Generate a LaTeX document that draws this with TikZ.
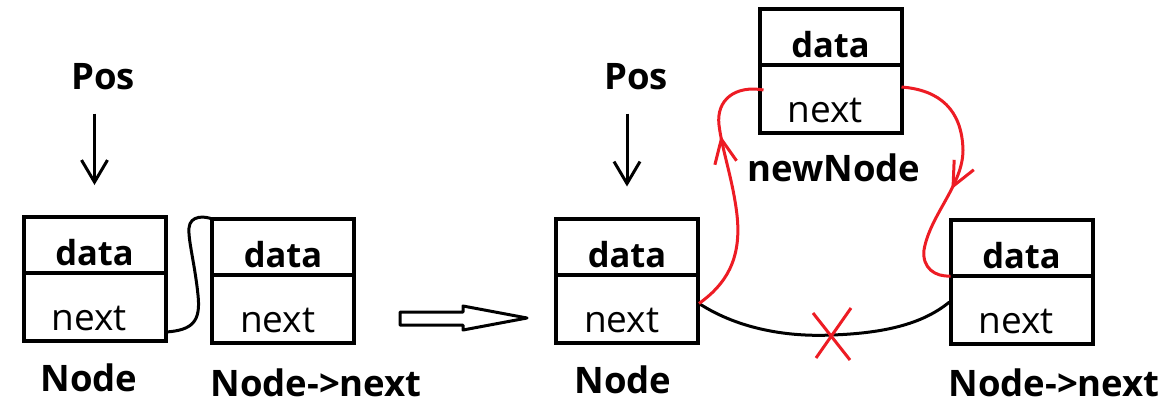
\documentclass[tikz,border=0pt]{standalone}
\usepackage{fontspec}
\setmainfont{Open Sans}
\usepackage{tikz}
\usetikzlibrary{arrows.meta,calc,decorations.markings}
\definecolor{pen}{RGB}{237,28,36}
\tikzset{
field/.style={draw, line width=4pt, minimum width=142pt, inner sep=0pt, outer sep=0pt, text depth=0pt},
datafield/.style={field, minimum height=56pt, text height=41pt, font=\fontsize{34.5}{38}\selectfont\bfseries},
nextfield/.style={field, minimum height=68pt, text height=47pt, inner xsep=28pt, text width=86pt, align=left, font=\fontsize{37}{40}\selectfont},
lbl/.style={font=\fontsize{36.5}{40}\selectfont\bfseries},
pointer/.style={line width=3pt, -{Straight Barb[length=22pt,width=26pt]}, shorten <=20pt, shorten >=32pt},
link/.style={line width=3pt},
redlink/.style={line width=3pt, pen, postaction={decorate}, decoration={markings, mark=at position #1 with {\arrow{Straight Barb[length=24pt,width=22pt]}}}}
}

\begin{document}
\begin{tikzpicture}[x=1pt,y=-1pt]
\useasboundingbox (0,0) rectangle (1171,418);
% before
\node[datafield] (d1) at (94.5,245) {data};
\node[nextfield] (n1) at (94.5,307) {next};
\node[datafield] (d2) at (283,247) {data};
\node[nextfield] (n2) at (283,309) {next};
\node[lbl] (pos1) at (103,77) {Pos};
\node[lbl] (lab1) at (89,378) {Node};
\node[lbl] (lab2) at (316,383) {Node->next};
\draw[pointer] (pos1.south -| d1.north) -- (d1.north);
\draw[link] ($(n1.south east)+(1,-9)$) .. controls (192,330) and (201,322) .. (198,295) .. controls (195,265) and (188,240) .. (189,228) .. controls (190,215) and (205,216) .. (d2.north west);
% big arrow
\draw[line width=3pt, line join=round] (400,312) -- (463,312) -- (463,306) -- (527,318) -- (463,330) -- (463,325) -- (400,325) -- cycle;
% after
\node[datafield] (d3) at (627,246.5) {data};
\node[nextfield] (n3) at (627,308.5) {next};
\node[datafield] (dN) at (830.5,37) {data};
\node[nextfield] (nN) at (830.5,99) {next};
\node[datafield] (d4) at (1021.5,248) {data};
\node[nextfield] (n4) at (1021.5,310) {next};
\node[lbl] (pos2) at (636,77) {Pos};
\node[lbl] (lab3) at (623,380) {Node};
\node[lbl] (lab5) at (834,168) {newNode};
\node[lbl] (lab4) at (1054,383) {Node->next};
\draw[pointer] (pos2.south -| d3.north) -- (d3.north);
\coordinate (a) at ($(n3.north east)+(1,29)$);
\coordinate (cut) at (832,335);
\draw[link] (a) .. controls (740,330) and (790,337) .. (cut) .. controls (890,333) and (925,322) .. ($(n4.north west)+(-1,26)$);
\draw[pen, line width=3pt] (cut) ++(-19,-22) -- ++(37,47) (cut) ++(19,-27) -- ++(-35,50);
\draw[redlink=0.70] (a) .. controls (725,285) and (742,260) .. (737,215) .. controls (733,180) and (722,150) .. (719,125) .. controls (716,100) and (735,85) .. ($(nN.north west)+(4,25)$);
\draw[redlink=0.56] ($(nN.north east)+(0,22)$) .. controls (940,90) and (962,110) .. (963,150) .. controls (963,185) and (930,215) .. (924,250) .. controls (922,268) and (935,277) .. (d4.south west);
\end{tikzpicture}
\end{document}
